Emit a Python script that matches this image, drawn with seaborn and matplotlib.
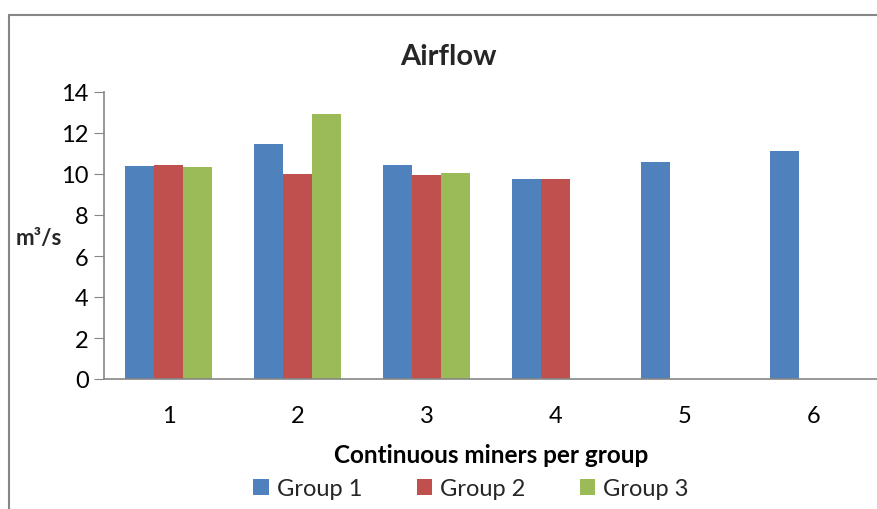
import pandas as pd
import numpy as np
import matplotlib
matplotlib.use("Agg")
import matplotlib.pyplot as plt
import seaborn as sns
from matplotlib.patches import Rectangle

# values (m3/s)
miners = ["1", "2", "3", "4", "5", "6"]
group1 = [10.40, 11.48, 10.42, 9.76, 10.57, 11.14]
group2 = [10.45, 10.00, 9.97, 9.74, np.nan, np.nan]
group3 = [10.33, 12.93, 10.05, np.nan, np.nan, np.nan]
groups = ["Group 1", "Group 2", "Group 3"]
colors = ["#4F81BD", "#C0504D", "#9BBB59"]

rows = []
for g, vals in zip(groups, [group1, group2, group3]):
    for m, v in zip(miners, vals):
        if not np.isnan(v):
            rows.append({"miners": m, "group": g, "airflow": v})
df = pd.DataFrame(rows)

sns.set_style("white")
plt.rcParams["font.family"] = ["Lato", "DejaVu Sans"]

fig = plt.figure(figsize=(8.78, 5.10), dpi=100)
ax = fig.add_axes([104 / 878, 1 - 380 / 510, 1 - 104 / 878, (380 - 93) / 510])

sns.barplot(data=df, x="miners", y="airflow", hue="group", order=miners,
            hue_order=groups, palette=colors, width=0.667, gap=0,
            saturation=1, edgecolor="none", legend=True, ax=ax)

ax.set_ylim(0, 14)
ax.set_xlim(-0.5, 5.5)
ax.set_yticks(range(0, 15, 2))
ax.tick_params(axis="y", direction="out", length=7, color="#868686", labelsize=17,
               labelcolor="black", pad=4, left=True)
ax.tick_params(axis="x", length=0, labelsize=17, labelcolor="black", pad=19)
for s in ["top", "right"]:
    ax.spines[s].set_visible(False)
for s in ["left", "bottom"]:
    ax.spines[s].set_color("#868686")
    ax.spines[s].set_linewidth(1.2)

ax.set_xlabel("Continuous miners per group", fontsize=17.5, fontweight="bold",
              labelpad=12, color="black")
ax.set_ylabel("")
fig.text(39 / 878, 1 - 238 / 510, "m³/s", fontsize=16, fontweight="bold", ha="center", va="center")
fig.text(448 / 878, 1 - 57 / 510, "Airflow", fontsize=21, fontweight="bold", ha="center", va="center")

handles, labels = ax.get_legend_handles_labels()
ax.get_legend().remove()
fig.legend(handles, labels, loc="center", bbox_to_anchor=(471 / 878, 1 - 490 / 510),
           ncol=3, frameon=False, fontsize=17, handlelength=0.65, handleheight=0.65,
           handletextpad=0.35, columnspacing=2.3)

# chart frame (cut off at the right and bottom)
fig.patches.append(Rectangle((9 / 878, -0.1), 1.2, 1 - 16 / 510 + 0.1, transform=fig.transFigure,
                             fill=False, edgecolor="#868686", linewidth=1.5))

fig.savefig("out.png", dpi=100)
